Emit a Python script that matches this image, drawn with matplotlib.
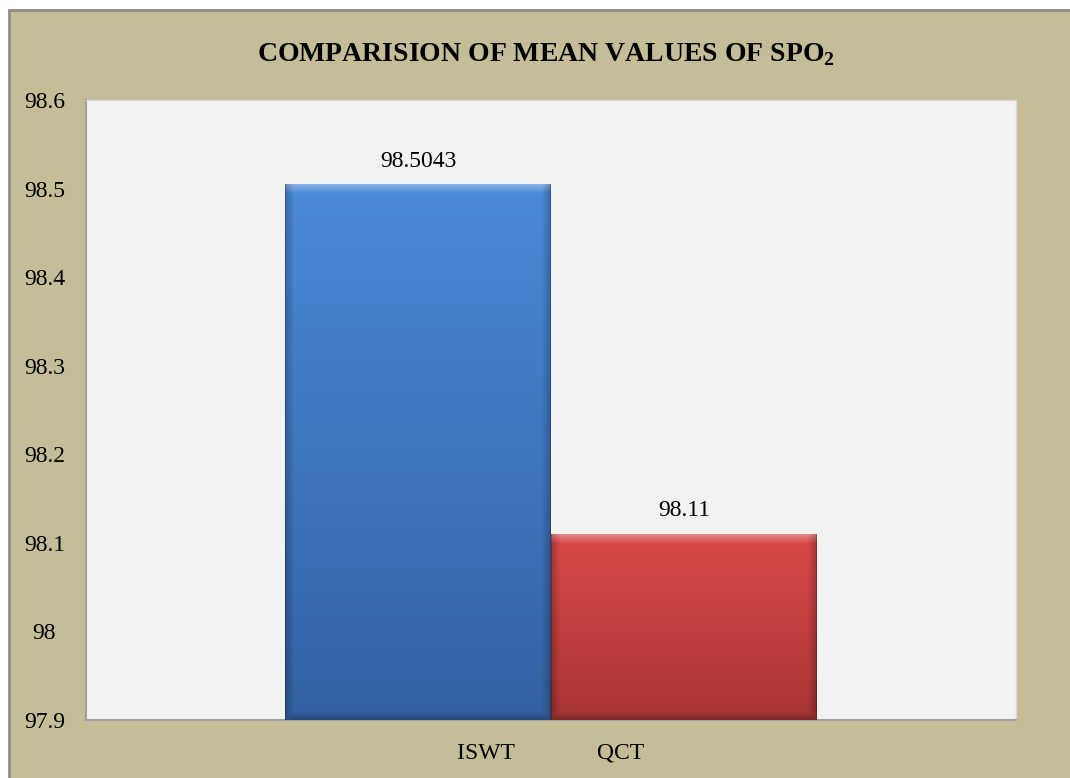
import numpy as np
import matplotlib
matplotlib.use('Agg')
import matplotlib.pyplot as plt
from matplotlib.patches import Rectangle
from matplotlib.colors import to_rgb

plt.rcParams['font.family'] = ['Liberation Serif', 'DejaVu Serif']
plt.rcParams['mathtext.fontset'] = 'custom'
plt.rcParams['mathtext.rm'] = 'Liberation Serif'
plt.rcParams['mathtext.bf'] = 'Liberation Serif:bold'

# data
categories = ['ISWT', 'QCT']
values = [98.5043, 98.11]
value_labels = ['98.5043', '98.11']
yticks = [97.9, 98.0, 98.1, 98.2, 98.3, 98.4, 98.5, 98.6]
ytick_labels = ['97.9', '98', '98.1', '98.2', '98.3', '98.4', '98.5', '98.6']
title = r'COMPARISION OF MEAN VALUES OF SPO$_\mathbf{2}$'

# top / bottom colours of each bar gradient
bar_top = ['#4b8ad8', '#da4947']
bar_bottom = ['#3361a3', '#a83535']

W, H = 1070, 778
fig = plt.figure(figsize=(W / 100, H / 100), dpi=100, facecolor='white')
fig.patches.append(Rectangle((9 / W, -0.01), 1.02, (H - 10) / H + 0.01,
                             transform=fig.transFigure, facecolor='#c4bd97',
                             edgecolor='#8c8c8c', linewidth=2, zorder=-10))

ax = fig.add_axes([86 / W, (H - 720) / H, 930 / W, 620 / H])
ax.set_zorder(1)
ax.set_facecolor('#f2f2f2')
ax.set_xlim(-0.5, 0.5)
ax.set_ylim(97.9, 98.6)

n = len(values)
width = 1 / (n + 1.5)
xs = (np.arange(n) - (n - 1) / 2) * width
bars = ax.bar(xs, np.array(values) - 97.9, bottom=97.9, width=width,
              color='none', edgecolor='none', zorder=2)


def bevel_image(top, bottom, w_px, h_px):
    t = np.array(to_rgb(top))
    b = np.array(to_rgb(bottom))
    fy = np.linspace(0, 1, h_px)[:, None, None]
    img = t * (1 - fy) + b * fy
    img = np.repeat(img, w_px, axis=1)
    yy, xx = np.mgrid[0:h_px, 0:w_px]
    e = 9.0
    # top highlight
    top_band = np.clip(1 - yy / e, 0, 1)
    img = img + (1 - img) * (0.35 * top_band)[..., None]
    # darker sides and bottom
    side = np.clip(1 - np.minimum(xx, w_px - 1 - xx) / e, 0, 1)
    bot = np.clip(1 - (h_px - 1 - yy) / e, 0, 1)
    shade = np.maximum(side * 0.22, bot * 0.25)
    img = img * (1 - shade)[..., None]
    # thin dark outline
    img[:, :1] *= 0.8
    img[:, -1:] *= 0.8
    return np.clip(img, 0, 1)


fig.canvas.draw()
for i, bar in enumerate(bars):
    x0, y0 = bar.get_x(), bar.get_y()
    bw, bh = bar.get_width(), bar.get_height()
    p0 = ax.transData.transform((x0, y0))
    p1 = ax.transData.transform((x0 + bw, y0 + bh))
    w_px = max(int(round(p1[0] - p0[0])), 2)
    h_px = max(int(round(p1[1] - p0[1])), 2)
    img = bevel_image(bar_top[i], bar_bottom[i], w_px, h_px)
    ax.imshow(img, extent=(x0, x0 + bw, y0, y0 + bh), aspect='auto',
              origin='upper', zorder=3, interpolation='bilinear')
    ax.annotate(value_labels[i], (x0 + bw / 2, y0 + bh), xytext=(0, 9),
                textcoords='offset points', ha='center', va='bottom',
                fontsize=17, color='#000000', zorder=4)

ax.set_xlim(-0.5, 0.5)
ax.set_ylim(97.9, 98.6)

ax.set_yticks(yticks)
ax.set_yticklabels(ytick_labels)
ax.tick_params(axis='y', length=0, pad=30, labelsize=17)
for lbl in ax.get_yticklabels():
    lbl.set_horizontalalignment('center')

ax.set_xticks([0])
ax.set_xticklabels(['              '.join(categories)])
ax.tick_params(axis='x', length=0, pad=16, labelsize=17)

for s in ['top', 'right']:
    ax.spines[s].set_color('#d8d8d8')
    ax.spines[s].set_linewidth(1)
for s in ['left', 'bottom']:
    ax.spines[s].set_color('#a0a0a0')
    ax.spines[s].set_linewidth(1.5)

fig.text(546 / W, 1 - 55 / H, title, ha='center', va='center',
         fontsize=20, fontweight='bold')

fig.savefig('out.png', dpi=100, facecolor=fig.get_facecolor())
